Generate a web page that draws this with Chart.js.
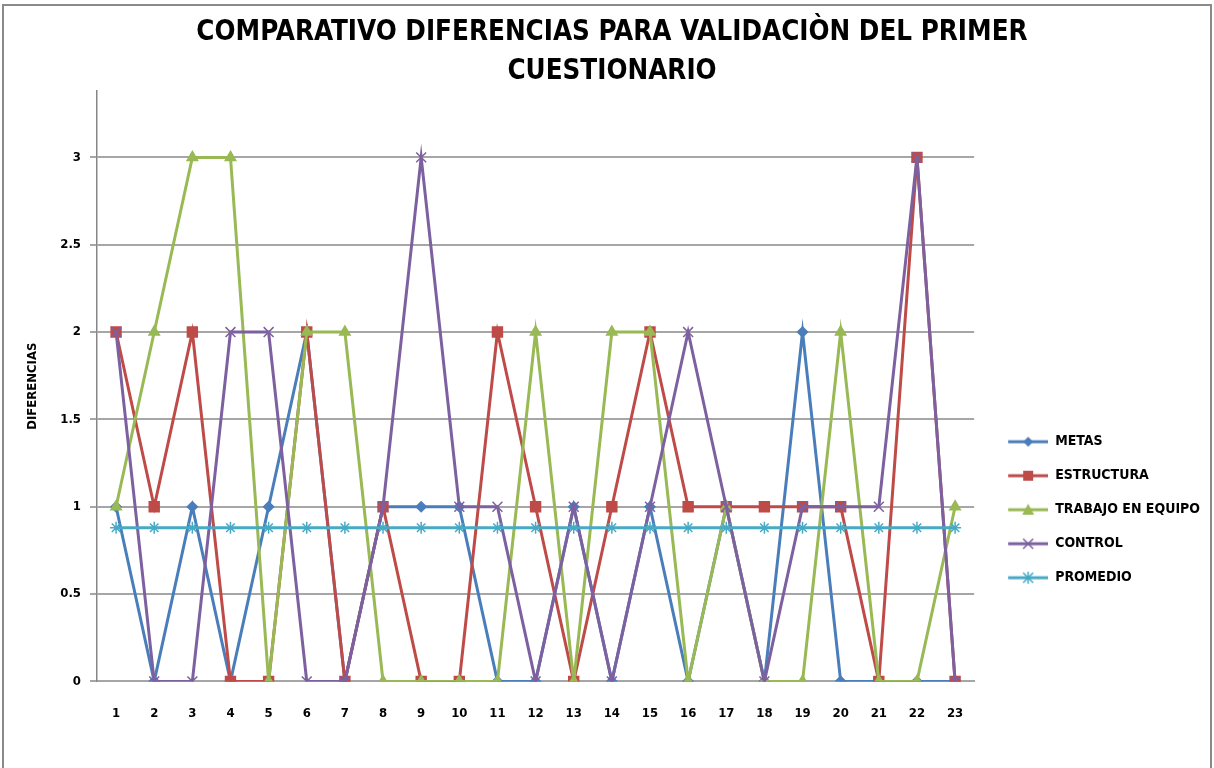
<!DOCTYPE html>
<html>
<head>
<meta charset="utf-8">
<script src="https://cdn.jsdelivr.net/npm/chart.js@4"></script>
<style>
  html, body { margin: 0; padding: 0; background: #fff; overflow: hidden; }
  #marco {
    position: absolute; left: 2px; top: 4px;
    width: 1206px; height: 780px;
    border: 2px solid #8a8a8a;
  }
</style>
</head>
<body>
<div id="marco"><canvas id="diferencias"></canvas></div>
<script>
// datos
const preguntas = ["1","2","3","4","5","6","7","8","9","10","11","12","13","14","15","16","17","18","19","20","21","22","23"];
const metas      = [1,0,1,0,1,2,0,1,1,1,0,0,1,0,1,0,1,0,2,0,0,0,0];
const estructura = [2,1,2,0,0,2,0,1,0,0,2,1,0,1,2,1,1,1,1,1,0,3,0];
const trabajo    = [1,2,3,3,0,2,2,0,0,0,0,2,0,2,2,0,1,0,0,2,0,0,1];
const control    = [2,0,0,2,2,0,0,1,3,1,1,0,1,0,1,2,1,0,1,1,1,3,0];
const promedio   = [0.88,0.88,0.88,0.88,0.88,0.88,0.88,0.88,0.88,0.88,0.88,0.88,0.88,0.88,0.88,0.88,0.88,0.88,0.88,0.88,0.88,0.88,0.88];
const marcasY    = [0, 0.5, 1, 1.5, 2, 2.5, 3];

const fuente = "'DejaVu Sans Condensed', 'DejaVu Sans', sans-serif";

// icono de leyenda: linea con marcador al centro (como en Excel)
function iconoLeyenda(color, forma) {
    const c = document.createElement("canvas");
    c.width = 54; c.height = 16;
    const g = c.getContext("2d");
    g.strokeStyle = color; g.fillStyle = color; g.lineWidth = 3;
    g.beginPath(); g.moveTo(14, 8); g.lineTo(54, 8); g.stroke();
    const cx = 34, cy = 8;
    g.lineWidth = 1.5;
    g.beginPath();
    if (forma === "rombo") {
        g.moveTo(cx, cy - 5); g.lineTo(cx + 5, cy); g.lineTo(cx, cy + 5); g.lineTo(cx - 5, cy); g.closePath(); g.fill();
    } else if (forma === "cuadro") {
        g.rect(cx - 5, cy - 5, 10, 10); g.fill();
    } else if (forma === "triangulo") {
        g.moveTo(cx, cy - 6); g.lineTo(cx + 6, cy + 5); g.lineTo(cx - 6, cy + 5); g.closePath(); g.fill();
    } else if (forma === "equis") {
        g.moveTo(cx - 5, cy - 5); g.lineTo(cx + 5, cy + 5); g.moveTo(cx + 5, cy - 5); g.lineTo(cx - 5, cy + 5); g.stroke();
    } else {
        g.moveTo(cx - 5, cy - 5); g.lineTo(cx + 5, cy + 5); g.moveTo(cx + 5, cy - 5); g.lineTo(cx - 5, cy + 5);
        g.moveTo(cx, cy - 6); g.lineTo(cx, cy + 6); g.stroke();
    }
    return c;
}

const iconos = [
    iconoLeyenda("#4A7EBB", "rombo"),
    iconoLeyenda("#BE4B48", "cuadro"),
    iconoLeyenda("#98B954", "triangulo"),
    iconoLeyenda("#7D60A0", "equis"),
    iconoLeyenda("#46AAC5", "asterisco"),
];

function serie(label, data, color, estilo, radio, orden) {
    return {
        label: label,
        data: data,
        borderColor: color,
        backgroundColor: color,
        pointBackgroundColor: color,
        pointBorderColor: color,
        pointStyle: estilo,
        pointRadius: radio,
        pointBorderWidth: 1.5,
        borderWidth: 3,
        tension: 0,
        order: orden,
    };
}

const ctx = document.getElementById("diferencias").getContext("2d");

new Chart(ctx, {
    type: "line",
    data: {
        labels: preguntas,
        datasets: [
            serie("METAS", metas, "#4A7EBB", "rectRot", 5, 5),
            serie("ESTRUCTURA", estructura, "#BE4B48", "rect", 7, 4),
            serie("TRABAJO EN EQUIPO", trabajo, "#98B954", "triangle", 6, 3),
            serie("CONTROL", control, "#7D60A0", "crossRot", 7, 2),
            serie("PROMEDIO", promedio, "#46AAC5", "star", 6, 1),
        ],
    },
    options: {
        responsive: true,
        maintainAspectRatio: false,
        animation: false,
        layout: {
            padding: { left: 10, right: 0, top: 0, bottom: 41 },
        },
        plugins: {
            title: {
                display: true,
                text: ["COMPARATIVO DIFERENCIAS PARA VALIDACIÒN DEL PRIMER", "CUESTIONARIO"],
                color: "#000",
                font: { family: fuente, size: 27.5, weight: "bold", lineHeight: 1.4 },
                padding: { top: 8, bottom: 0 },
            },
            legend: {
                display: true,
                position: "right",
                align: "center",
                title: { display: true, text: "", padding: { top: 254, bottom: 0 }, font: { size: 12 } },
                labels: {
                    usePointStyle: true,
                    pointStyleWidth: 54,
                    padding: 20,
                    color: "#000",
                    font: { family: fuente, size: 14, weight: "bold" },
                    sort: (a, b) => a.datasetIndex - b.datasetIndex,
                    generateLabels: (chart) => {
                        const items = Chart.defaults.plugins.legend.labels.generateLabels(chart);
                        items.forEach((it) => { it.pointStyle = iconos[it.datasetIndex]; });
                        return items;
                    },
                },
            },
            tooltip: { enabled: false },
        },
        scales: {
            x: {
                offset: true,
                grid: { display: false, drawTicks: false },
                border: { display: true, color: "#a6a6a6", width: 2 },
                ticks: {
                    color: "#000",
                    padding: 24,
                    font: { family: fuente, size: 13, weight: "bold" },
                },
            },
            y: {
                min: 0,
                max: 3.38,
                afterFit: (scale) => { scale.width = 83; },
                afterBuildTicks: (scale) => {
                    scale.ticks = marcasY.map((v) => ({ value: v }));
                },
                grid: { color: "#a6a6a6", lineWidth: 2, tickLength: 7, tickColor: "#a6a6a6" },
                border: { display: true, color: "#868686", width: 1.5 },
                ticks: {
                    color: "#000",
                    padding: 9,
                    font: { family: fuente, size: 13, weight: "bold" },
                    callback: (v) => String(v),
                },
                title: {
                    display: true,
                    text: "DIFERENCIAS",
                    color: "#000",
                    padding: { top: 11, bottom: 0 },
                    font: { family: fuente, size: 13, weight: "bold" },
                },
            },
        },
    },
});
</script>
</body>
</html>
